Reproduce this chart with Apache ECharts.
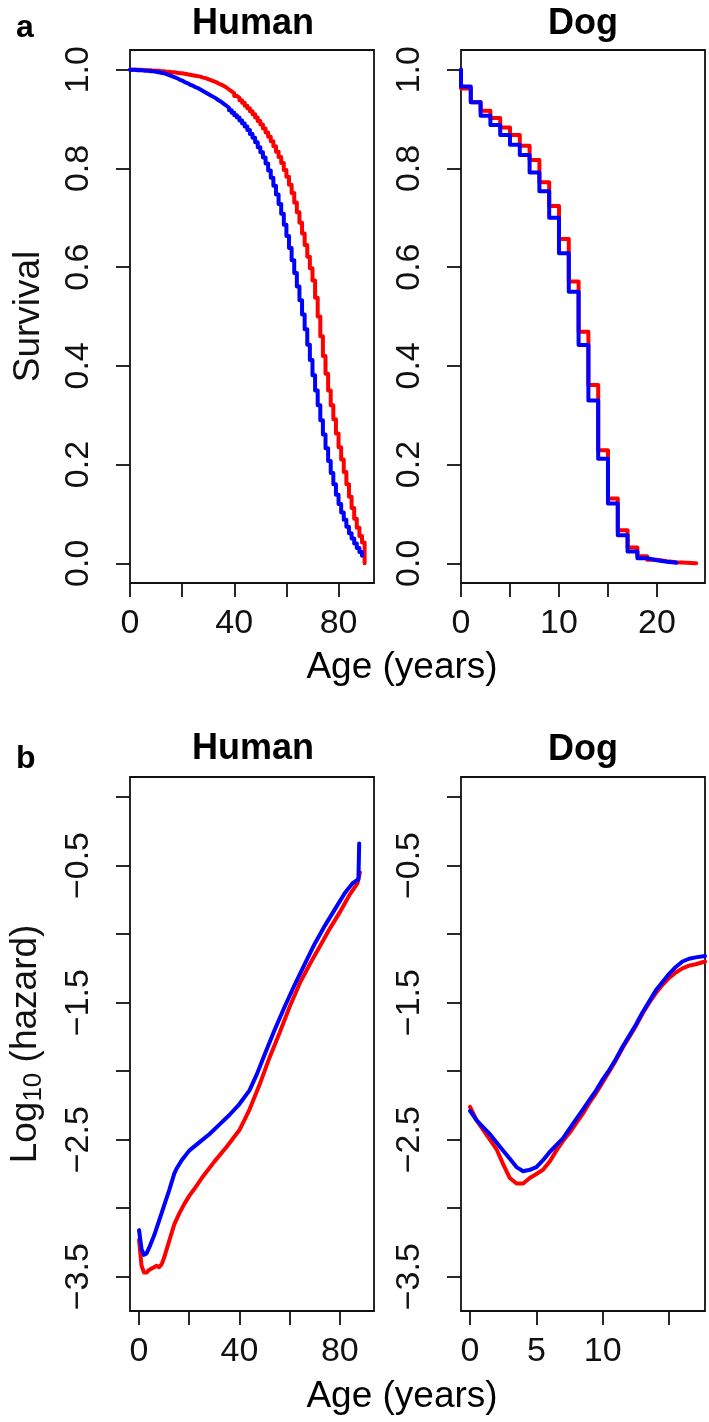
<!DOCTYPE html>
<html>
<head>
<meta charset="utf-8">
<script src="https://cdn.jsdelivr.net/npm/echarts@6.0.0/dist/echarts.min.js"></script>
<style>
  html, body { margin: 0; padding: 0; background: #fff; }
  #main { width: 709px; height: 1422px; }
</style>
</head>
<body>
<div id="main"></div>
<script>
// ---- data ----
// panel a, human survival, yearly steps (age 0..90 red, 0..89 blue)
let humanSurvRed = [
  1.000, 1.000, 1.000, 1.000, 0.999, 0.999, 0.999, 0.999, 0.998, 0.998,
  0.998, 0.997, 0.997, 0.996, 0.996, 0.995, 0.995, 0.994, 0.993, 0.993,
  0.992, 0.991, 0.990, 0.989, 0.988, 0.987, 0.986, 0.984, 0.983, 0.981,
  0.979, 0.977, 0.975, 0.972, 0.970, 0.967, 0.964, 0.960, 0.956, 0.952,
  0.947, 0.943, 0.938, 0.933, 0.927, 0.922, 0.916, 0.910, 0.903, 0.896,
  0.889, 0.881, 0.873, 0.864, 0.855, 0.845, 0.834, 0.823, 0.811, 0.797,
  0.783, 0.767, 0.750, 0.731, 0.711, 0.690, 0.668, 0.645, 0.621, 0.598,
  0.573, 0.538, 0.500, 0.460, 0.420, 0.384, 0.350, 0.320, 0.292, 0.263,
  0.235, 0.210, 0.185, 0.160, 0.135, 0.112, 0.090, 0.072, 0.055, 0.042,
  0.030
];
let humanSurvBlue = [
  1.000, 1.000, 0.999, 0.999, 0.999, 0.998, 0.998, 0.997, 0.997, 0.996,
  0.995, 0.994, 0.993, 0.991, 0.989, 0.987, 0.985, 0.983, 0.980, 0.978,
  0.975, 0.973, 0.970, 0.968, 0.965, 0.963, 0.960, 0.957, 0.954, 0.951,
  0.948, 0.945, 0.942, 0.938, 0.935, 0.931, 0.927, 0.923, 0.918, 0.913,
  0.908, 0.903, 0.897, 0.891, 0.885, 0.878, 0.870, 0.862, 0.853, 0.843,
  0.833, 0.822, 0.810, 0.796, 0.781, 0.765, 0.747, 0.728, 0.708, 0.686,
  0.663, 0.639, 0.614, 0.588, 0.561, 0.533, 0.504, 0.474, 0.443, 0.412,
  0.381, 0.350, 0.320, 0.290, 0.261, 0.233, 0.207, 0.183, 0.160, 0.139,
  0.120, 0.103, 0.088, 0.074, 0.061, 0.050, 0.040, 0.031, 0.023, 0.015
];

// panel a, dog survival: value held from each age to the next (age 0..24 red, 0..22 blue)
let dogSurvRed = [
  0.962, 0.934, 0.917, 0.902, 0.883, 0.868, 0.846, 0.817, 0.772, 0.724,
  0.657, 0.571, 0.469, 0.361, 0.229, 0.131, 0.067, 0.032, 0.014, 0.007,
  0.004, 0.002, 0.001, 0.000, 0.000
];
let dogSurvBlue = [
  0.966, 0.934, 0.907, 0.888, 0.868, 0.848, 0.827, 0.792, 0.754, 0.700,
  0.628, 0.550, 0.442, 0.330, 0.212, 0.121, 0.057, 0.024, 0.010, 0.006,
  0.003, 0.001, 0.001
];

// panel b, human log10 hazard
let humanHazRedAge = [0, 1, 2, 3, 4, 5, 6, 7, 8, 9, 10, 12, 14, 16, 18, 20, 22, 25, 30, 35, 40, 44, 48, 52, 56, 60, 64, 68, 72, 76, 80, 84, 87, 88];
let humanHazRed = [-3.23, -3.42, -3.47, -3.47, -3.45, -3.44, -3.43, -3.42, -3.43, -3.41, -3.36, -3.24, -3.12, -3.04, -2.97, -2.91, -2.86, -2.78, -2.66, -2.55, -2.43, -2.28, -2.10, -1.90, -1.72, -1.53, -1.36, -1.22, -1.09, -0.96, -0.84, -0.71, -0.63, -0.55];
let humanHazBlueAge = [0, 1, 2, 3, 4, 6, 8, 10, 12, 14, 15, 17, 20, 24, 28, 32, 36, 40, 44, 47, 50, 54, 58, 62, 66, 70, 74, 78, 82, 85, 87.4, 87.7];
let humanHazBlue = [-3.16, -3.30, -3.34, -3.33, -3.29, -3.20, -3.09, -2.98, -2.87, -2.75, -2.71, -2.65, -2.58, -2.52, -2.46, -2.39, -2.32, -2.24, -2.14, -2.02, -1.88, -1.70, -1.53, -1.37, -1.22, -1.07, -0.94, -0.82, -0.70, -0.63, -0.60, -0.34];

// panel b, dog log10 hazard
let dogHazAge = [0, 0.5, 1, 1.5, 2, 2.5, 3, 3.5, 4, 4.5, 5, 5.5, 6, 6.5, 7, 7.5, 8, 8.5, 9, 9.5, 10, 10.5, 11, 11.5, 12, 12.5, 13, 13.5, 14, 14.5, 15, 15.5, 16, 16.5, 17, 17.7];
let dogHazRed = [-2.26, -2.36, -2.43, -2.50, -2.57, -2.68, -2.78, -2.82, -2.82, -2.78, -2.75, -2.72, -2.66, -2.58, -2.51, -2.45, -2.38, -2.31, -2.23, -2.16, -2.08, -2.00, -1.92, -1.83, -1.75, -1.67, -1.58, -1.50, -1.43, -1.37, -1.32, -1.28, -1.25, -1.23, -1.22, -1.20];
let dogHazBlue = [-2.29, -2.36, -2.41, -2.46, -2.52, -2.58, -2.64, -2.70, -2.73, -2.72, -2.70, -2.65, -2.59, -2.54, -2.49, -2.42, -2.35, -2.28, -2.21, -2.14, -2.06, -1.99, -1.91, -1.82, -1.74, -1.66, -1.57, -1.49, -1.41, -1.35, -1.29, -1.24, -1.20, -1.18, -1.17, -1.16];

// tick values and labels
let humanTicks = [0, 20, 40, 60, 80];
let humanLabels = [0, 40, 80];
let dogSurvTicks = [0, 5, 10, 15, 20];
let dogSurvLabels = [0, 10, 20];
let dogHazTicks = [0, 5, 10, 15];
let dogHazLabels = [0, 5, 10];
let survTicks = [0, 0.2, 0.4, 0.6, 0.8, 1.0];
let hazTicks = [0, -0.5, -1, -1.5, -2, -2.5, -3, -3.5];
let hazLabels = [-0.5, -1.5, -2.5, -3.5];

const RED = '#ff0000';
const BLUE = '#0000ff';
const INK = '#111';
const FONT = 'Liberation Sans';

function pairs(xs, ys) {
    let out = [];
    for (let i = 0; i < ys.length; i++) {
        out.push([xs[i], ys[i]]);
    }
    return out;
}

function ages(n) {
    let out = [];
    for (let i = 0; i < n; i++) out.push(i);
    return out;
}

function xAxis(gridIndex, min, max, ticks, labels) {
    return {
        type: 'value', gridIndex: gridIndex, min: min, max: max,
        axisLine: { show: false, onZero: false },
        splitLine: { show: false },
        axisTick: { show: true, customValues: ticks, length: 14, lineStyle: { color: INK, width: 1.8 } },
        axisLabel: { customValues: labels, margin: 24, fontSize: 34, fontFamily: FONT, color: INK }
    };
}

function yAxis(gridIndex, min, max, ticks, labels, fmt, name) {
    return {
        type: 'value', gridIndex: gridIndex, min: min, max: max,
        axisLine: { show: false, onZero: false },
        splitLine: { show: false },
        axisTick: { show: true, customValues: ticks, length: 14, lineStyle: { color: INK, width: 1.8 } },
        axisLabel: { customValues: labels, rotate: 90, margin: 34, fontSize: 34, fontFamily: FONT, color: INK, formatter: fmt },
        name: name || '',
        nameLocation: 'middle',
        nameRotate: 90,
        nameGap: 83,
        nameTextStyle: {
            fontSize: 37, fontFamily: FONT, color: INK,
            rich: {
                m: { fontSize: 37, fontFamily: FONT, color: INK },
                s: { fontSize: 26, fontFamily: FONT, color: INK, padding: [16, 0, 0, 0] }
            }
        }
    };
}

function line(xi, yi, data, color, step) {
    return {
        type: 'line', xAxisIndex: xi, yAxisIndex: yi, data: data,
        step: step || false, showSymbol: false, symbol: 'none',
        clip: true, animation: false,
        lineStyle: { color: color, width: 4, cap: 'round', join: 'round' }
    };
}

function onePlace(v) { return v.toFixed(1); }
function hazLabel(v) { return '\u2212' + Math.abs(v).toFixed(1); }

// survival series built as [age, value] pairs, starting at 1.0 at age 0
let humanRedData = pairs(ages(humanSurvRed.length), humanSurvRed);
humanRedData.push([90, 0]);
let humanBlueData = pairs(ages(humanSurvBlue.length), humanSurvBlue);
let dogRedData = [[0, 1]].concat(pairs(ages(dogSurvRed.length), dogSurvRed));
let dogBlueData = [[0, 1]].concat(pairs(ages(dogSurvBlue.length), dogSurvBlue));

let chart = echarts.init(document.getElementById('main'));

let gridStyle = { show: true, borderColor: INK, borderWidth: 1.8, backgroundColor: 'transparent' };

function label(x, y, text, font, align) {
    return {
        type: 'text', x: x, y: y,
        style: { text: text, font: font, fill: '#000', textAlign: align || 'center', textVerticalAlign: 'middle' }
    };
}

let option = {
    animation: false,
    backgroundColor: '#fff',
    grid: [
        Object.assign({ left: 130, top: 50, width: 244, height: 533 }, gridStyle),
        Object.assign({ left: 461, top: 50, width: 244, height: 533 }, gridStyle),
        Object.assign({ left: 130, top: 777, width: 244, height: 534 }, gridStyle),
        Object.assign({ left: 461, top: 777, width: 244, height: 534 }, gridStyle)
    ],
    xAxis: [
        xAxis(0, 0, 93.6, humanTicks, humanLabels),
        xAxis(1, 0, 24.9, dogSurvTicks, dogSurvLabels),
        xAxis(2, -3.6, 93.6, humanTicks, humanLabels),
        xAxis(3, -0.68, 17.7, dogHazTicks, dogHazLabels)
    ],
    yAxis: [
        yAxis(0, -0.04, 1.04, survTicks, survTicks, onePlace, 'Survival'),
        yAxis(1, -0.04, 1.04, survTicks, survTicks, onePlace),
        yAxis(2, -3.75, 0.146, hazTicks, hazLabels, hazLabel, '{m|Log}{s|10}{m| (hazard)}'),
        yAxis(3, -3.75, 0.146, hazTicks, hazLabels, hazLabel)
    ],
    graphic: [
        label(16, 28, 'a', 'bold 32px "Liberation Sans"', 'left'),
        label(253, 24, 'Human', 'bold 36px "Liberation Sans"'),
        label(583, 24, 'Dog', 'bold 36px "Liberation Sans"'),
        label(402, 668, 'Age (years)', '37px "Liberation Sans"'),
        label(16, 759, 'b', 'bold 32px "Liberation Sans"', 'left'),
        label(253, 749, 'Human', 'bold 36px "Liberation Sans"'),
        label(583, 750, 'Dog', 'bold 36px "Liberation Sans"'),
        label(402, 1397, 'Age (years)', '37px "Liberation Sans"')
    ],
    series: [
        line(0, 0, humanRedData, RED, 'end'),
        line(0, 0, humanBlueData, BLUE, 'end'),
        line(1, 1, dogRedData, RED, 'end'),
        line(1, 1, dogBlueData, BLUE, 'end'),
        line(2, 2, pairs(humanHazRedAge, humanHazRed), RED),
        line(2, 2, pairs(humanHazBlueAge, humanHazBlue), BLUE),
        line(3, 3, pairs(dogHazAge, dogHazRed), RED),
        line(3, 3, pairs(dogHazAge, dogHazBlue), BLUE)
    ]
};

chart.setOption(option);
</script>
</body>
</html>
